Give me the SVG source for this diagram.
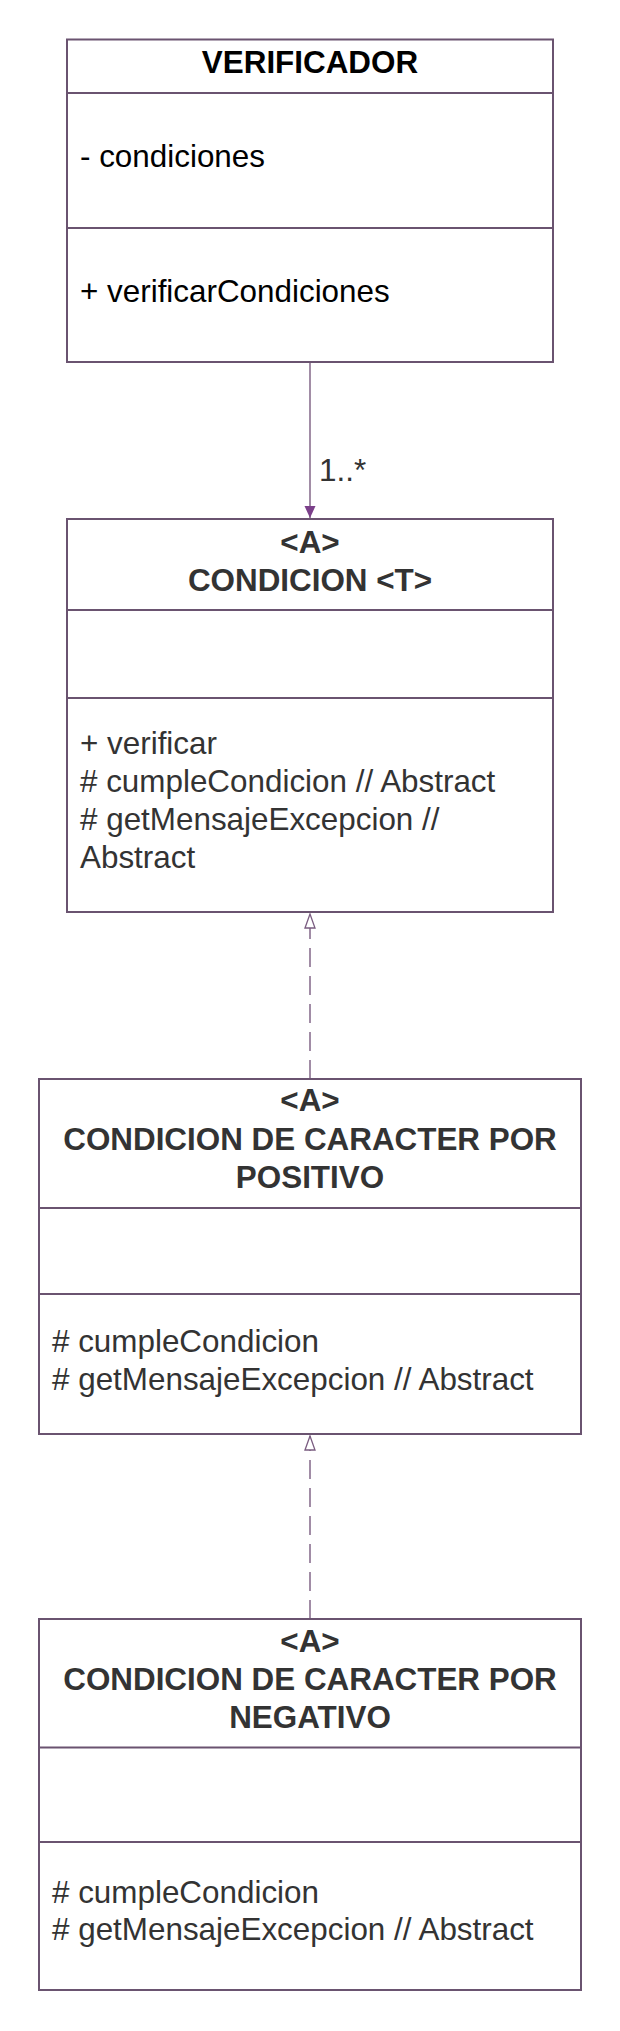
<svg xmlns="http://www.w3.org/2000/svg" width="620" height="2031" viewBox="0 0 620 2031">
<defs>
<style>
.box{fill:#ffffff;stroke:#6a5370;stroke-width:2}
.div{stroke:#6a5370;stroke-width:2}
.t{font-family:"Liberation Sans",Arial,sans-serif;font-size:31.4px}
.b{font-weight:bold;text-anchor:middle}
.k{fill:#000000}
.g{fill:#333333}
.conn{stroke:#7a5c80;stroke-width:1.4;fill:none}
.dash{stroke-dasharray:19 9}
</style>
<marker id="filled" markerWidth="12" markerHeight="12" refX="12" refY="6" orient="auto" markerUnits="userSpaceOnUse" viewBox="0 0 12 12">
<path d="M0,0.5 L12,6 L0,11.5 Z" fill="#7b3f8a"/>
</marker>
<marker id="hollow" markerWidth="16" markerHeight="12" refX="15" refY="6" orient="auto" markerUnits="userSpaceOnUse" viewBox="0 0 16 12">
<path d="M1,1 L15,6 L1,11 Z" fill="#ffffff" stroke="#7a5c80" stroke-width="1.3"/>
</marker>
</defs>
<rect width="620" height="2031" fill="#ffffff"/>

<g id="connectors">
<line class="conn" x1="310" y1="362" x2="310" y2="518" marker-end="url(#filled)"/>
<text class="t g" x="319" y="481">1..*</text>
<line class="conn dash" x1="310" y1="1079" x2="310" y2="914" marker-end="url(#hollow)"/>
<line class="conn dash" x1="310" y1="1619" x2="310" y2="1436" marker-end="url(#hollow)"/>
</g>

<g id="verificador">
<rect class="box" x="67" y="39.5" width="486" height="322.5"/>
<line class="div" x1="67" y1="93" x2="553" y2="93"/>
<line class="div" x1="67" y1="228" x2="553" y2="228"/>
<text class="t b k" x="310" y="73">VERIFICADOR</text>
<text class="t k" x="80" y="167">- condiciones</text>
<text class="t k" x="80" y="302">+ verificarCondiciones</text>
</g>

<g id="condicion">
<rect class="box" x="67" y="519" width="486" height="393"/>
<line class="div" x1="67" y1="610" x2="553" y2="610"/>
<line class="div" x1="67" y1="698" x2="553" y2="698"/>
<text class="t b g" x="310" y="553">&lt;A&gt;</text>
<text class="t b g" x="310" y="591">CONDICION &lt;T&gt;</text>
<text class="t g" x="80" y="754">+ verificar</text>
<text class="t g" x="80" y="792"># cumpleCondicion // Abstract</text>
<text class="t g" x="80" y="830"># getMensajeExcepcion //</text>
<text class="t g" x="80" y="868">Abstract</text>
</g>

<g id="positivo">
<rect class="box" x="39" y="1079" width="542" height="355"/>
<line class="div" x1="39" y1="1208" x2="581" y2="1208"/>
<line class="div" x1="39" y1="1294" x2="581" y2="1294"/>
<text class="t b g" x="310" y="1111">&lt;A&gt;</text>
<text class="t b g" x="310" y="1149.5">CONDICION DE CARACTER POR</text>
<text class="t b g" x="310" y="1188">POSITIVO</text>
<text class="t g" x="52" y="1352"># cumpleCondicion</text>
<text class="t g" x="52" y="1389.5"># getMensajeExcepcion // Abstract</text>
</g>

<g id="negativo">
<rect class="box" x="39" y="1619" width="542" height="371"/>
<line class="div" x1="39" y1="1747.5" x2="581" y2="1747.5"/>
<line class="div" x1="39" y1="1842" x2="581" y2="1842"/>
<text class="t b g" x="310" y="1651.5">&lt;A&gt;</text>
<text class="t b g" x="310" y="1690">CONDICION DE CARACTER POR</text>
<text class="t b g" x="310" y="1728">NEGATIVO</text>
<text class="t g" x="52" y="1902.5"># cumpleCondicion</text>
<text class="t g" x="52" y="1940"># getMensajeExcepcion // Abstract</text>
</g>
</svg>
